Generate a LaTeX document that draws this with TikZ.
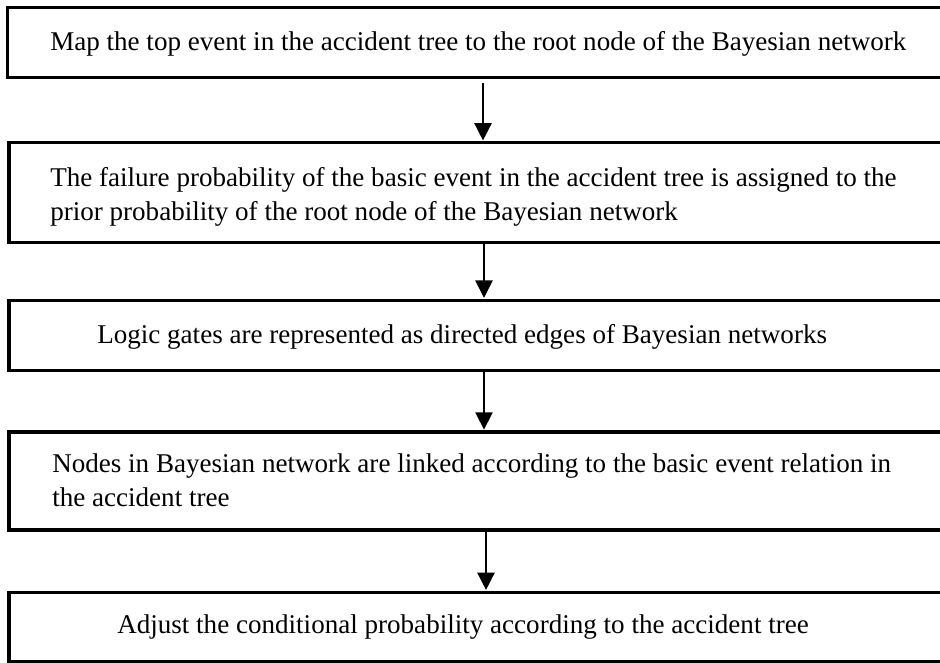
\documentclass[tikz,border=0pt]{standalone}
\usepackage{fontspec}
\setmainfont{Liberation Serif}
\usetikzlibrary{arrows.meta}
\begin{document}
\begin{tikzpicture}[x=0.75pt,y=-0.75pt,
  stepbox/.style={draw=black, line width=2.4pt, rectangle, inner sep=0pt},
  steptext/.style={anchor=base west, inner sep=0pt, font=\fontsize{20.3}{25.5}\selectfont, align=left},
  flow/.style={line width=1.1pt, -{Triangle[length=13pt,width=13pt]}, shorten >=0.6pt}]
  \useasboundingbox (0,0) rectangle (940,662);
  \clip (0,0) rectangle (940,662);
  % process boxes (they run past the right edge of the page)
  \node[stepbox, minimum width=709pt, minimum height=52pt] (b1) at (480,42.5) {};
  \node[stepbox, minimum width=708pt, minimum height=74.5pt] (b2) at (481,192.5) {};
  \node[stepbox, minimum width=708pt, minimum height=53pt] (b3) at (481,335.5) {};
  \node[stepbox, minimum width=708pt, minimum height=73.5pt] (b4) at (481,481) {};
  \node[stepbox, minimum width=708pt, minimum height=52pt] (b5) at (481,627) {};
  % box texts (two-line texts are anchored on their last baseline)
  \node[steptext] (t1) at (50,50) {Map the top event in the accident tree to the root node of the Bayesian network};
  \node[steptext] (t2) at (50,220) {The failure probability of the basic event in the accident tree is assigned to the\\prior probability of the root node of the Bayesian network};
  \node[steptext] (t3) at (97,343) {Logic gates are represented as directed edges of Bayesian networks};
  \node[steptext] (t4) at (52,506) {Nodes in Bayesian network are linked according to the basic event relation in\\the accident tree};
  \node[steptext] (t5) at (117,633) {Adjust the conditional probability according to the accident tree};
  % arrows between the steps
  \coordinate (a1) at (483,83);
  \draw[flow] (a1) -- (a1 |- b2.north);
  \draw[flow] (b2.south -| 484,0) -- (b3.north -| 484,0);
  \draw[flow] (b3.south -| 484,0) -- (b4.north -| 484,0);
  \draw[flow] (b4.south -| 486,0) -- (b5.north -| 486,0);
\end{tikzpicture}
\end{document}
